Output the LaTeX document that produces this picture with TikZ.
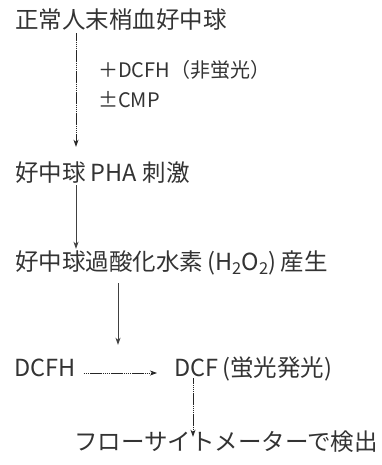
\documentclass[tikz,border=0pt]{standalone}
\usepackage{fontspec}
\setmainfont{Noto Sans CJK JP}
\usetikzlibrary{arrows.meta}
\begin{document}
\begin{tikzpicture}[x=1pt,y=-1pt,
  txt/.style={inner sep=0pt,text height=0.88em,text depth=0.12em,anchor=west,
    text=black!80,font=\fontsize{23.5}{28}\selectfont},
  smalltxt/.style={txt,font=\fontsize{20}{24}\selectfont},
  solidarr/.style={draw=black!75,line width=0.8pt,-{Stealth[length=7pt,width=5pt,inset=2pt]}},
  dotarr/.style={solidarr,draw=black!85,dash pattern=on 1.6pt off 0.5pt}]
\useasboundingbox (0,0) rectangle (382,465);
\node[txt] (n1) at (15,25) {正常人末梢血好中球};
\node[smalltxt] (add1) at (98,74) {＋DCFH（非蛍光）};
\node[smalltxt] (add2) at (98,104) {±CMP};
\node[txt] (n2) at (15,178) {好中球 PHA 刺激};
\node[txt] (n3) at (15,267) {好中球過酸化水素\,(H\textsubscript{2}O\textsubscript{2})\,産生};
\node[txt] (n4) at (14,373) {DCFH};
\node[txt] (n5) at (174,373) {DCF\,(蛍光発光)};
\node[txt] (n6) at (74,447) {フローサイトメーターで検出};
\coordinate (c1) at (76,0);
\coordinate (c3) at (118,0);
\coordinate (c4) at (193,0);
\draw[dotarr,shorten <=3pt,shorten >=26pt] (n1.south -| c1) -- (n2.north -| c1);
\draw[solidarr,shorten <=2pt,shorten >=13pt] (n2.south -| c1) -- (n3.north -| c1);
\draw[solidarr,shorten <=11pt,shorten >=23pt] (n3.south -| c3) -- (n5.north -| c3);
\draw[dotarr,shorten <=8pt,shorten >=17pt] (n4.east) -- (n5.west);
\draw[dotarr,shorten <=0pt,shorten >=5pt] (n5.south -| c4) -- (n6.north -| c4);
\end{tikzpicture}
\end{document}
